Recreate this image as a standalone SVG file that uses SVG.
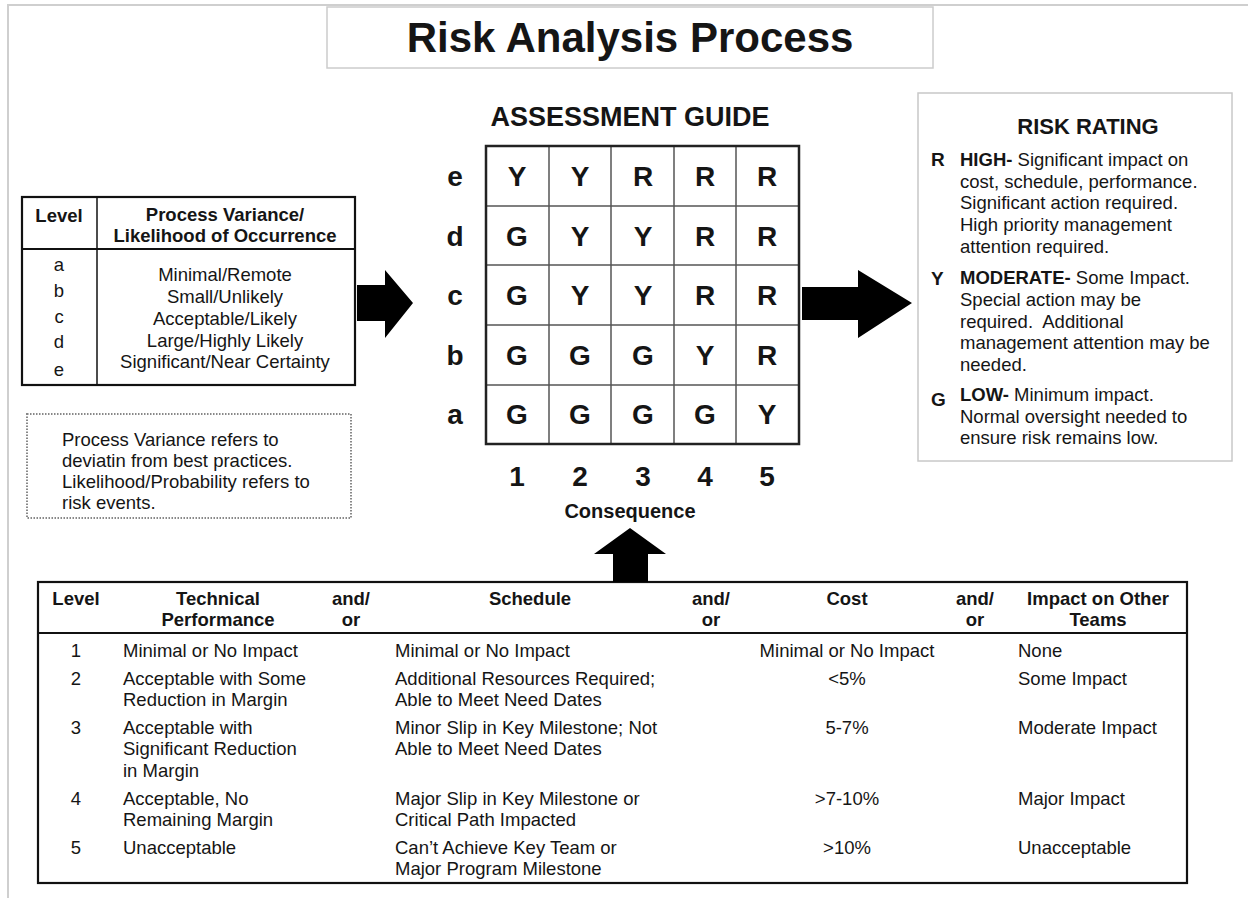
<svg xmlns="http://www.w3.org/2000/svg" width="1248" height="898" viewBox="0 0 1248 898">
  <style>
    text { font-family: "Liberation Sans", Arial, sans-serif; fill: #151515; }
    .b { font-weight: bold; }
    .c { text-anchor: middle; }
    .t { font-size: 18.5px; fill: #222; }
    .h { font-size: 18.5px; font-weight: bold; }
    .cell { font-size: 28px; font-weight: bold; text-anchor: middle; }
    .box { fill: #fff; stroke: #111; stroke-width: 2.2; }
    .grid { stroke: #555; stroke-width: 1.5; fill: none; }
    .arrow { fill: #000; }
  </style>

  <!-- page frame -->
  <rect x="0" y="0" width="1248" height="898" fill="#fff"/>
  <path d="M8 898 V5 H1248" fill="none" stroke="#cfcfcf" stroke-width="2"/>

  <!-- title -->
  <g id="title">
    <rect x="327" y="7" width="606" height="61" fill="#fff" stroke="#cccccc" stroke-width="1.5"/>
    <text x="630" y="52" class="b c" font-size="42">Risk Analysis Process</text>
  </g>

  <!-- likelihood table -->
  <g id="likelihood-table">
    <rect x="22" y="197" width="333" height="188" class="box"/>
    <line x1="22" y1="249" x2="355" y2="249" stroke="#111" stroke-width="2"/>
    <line x1="97" y1="197" x2="97" y2="385" stroke="#111" stroke-width="1.5"/>
    <text x="59" y="222" class="h c">Level</text>
    <text x="225" y="221" class="h c">Process Variance/</text>
    <text x="225" y="242" class="h c">Likelihood of Occurrence</text>
    <g class="t c">
      <text x="59" y="271">a</text>
      <text x="59" y="297">b</text>
      <text x="59" y="323">c</text>
      <text x="59" y="348">d</text>
      <text x="59" y="376">e</text>
      <text x="225" y="281">Minimal/Remote</text>
      <text x="225" y="303">Small/Unlikely</text>
      <text x="225" y="325">Acceptable/Likely</text>
      <text x="225" y="347">Large/Highly Likely</text>
      <text x="225" y="368">Significant/Near Certainty</text>
    </g>
  </g>

  <!-- explanatory note -->
  <g id="note">
    <rect x="27" y="414" width="324" height="104" fill="#fff" stroke="#888" stroke-width="2" stroke-dasharray="1.5 1.5"/>
    <g class="t">
      <text x="62" y="446">Process Variance refers to</text>
      <text x="62" y="467">deviatin from best practices.</text>
      <text x="62" y="488">Likelihood/Probability refers to</text>
      <text x="62" y="509">risk events.</text>
    </g>
  </g>

  <!-- assessment guide matrix -->
  <g id="assessment-guide">
    <text x="630" y="126" class="b c" font-size="27">ASSESSMENT GUIDE</text>
    <rect x="486" y="146" width="313" height="298" fill="#fff" stroke="none"/>
    <g class="grid">
      <line x1="549" y1="146" x2="549" y2="444"/>
      <line x1="611" y1="146" x2="611" y2="444"/>
      <line x1="674" y1="146" x2="674" y2="444"/>
      <line x1="736" y1="146" x2="736" y2="444"/>
      <line x1="486" y1="206" x2="799" y2="206"/>
      <line x1="486" y1="265" x2="799" y2="265"/>
      <line x1="486" y1="325" x2="799" y2="325"/>
      <line x1="486" y1="385" x2="799" y2="385"/>
    </g>
    <rect x="486" y="146" width="313" height="298" fill="none" stroke="#222" stroke-width="2.5"/>
    <g class="cell">
      <text x="455" y="186">e</text>
      <text x="455" y="246">d</text>
      <text x="455" y="305">c</text>
      <text x="455" y="365">b</text>
      <text x="455" y="424">a</text>

      <text x="517" y="186">Y</text><text x="580" y="186">Y</text><text x="643" y="186">R</text><text x="705" y="186">R</text><text x="767" y="186">R</text>
      <text x="517" y="246">G</text><text x="580" y="246">Y</text><text x="643" y="246">Y</text><text x="705" y="246">R</text><text x="767" y="246">R</text>
      <text x="517" y="305">G</text><text x="580" y="305">Y</text><text x="643" y="305">Y</text><text x="705" y="305">R</text><text x="767" y="305">R</text>
      <text x="517" y="365">G</text><text x="580" y="365">G</text><text x="643" y="365">G</text><text x="705" y="365">Y</text><text x="767" y="365">R</text>
      <text x="517" y="424">G</text><text x="580" y="424">G</text><text x="643" y="424">G</text><text x="705" y="424">G</text><text x="767" y="424">Y</text>

      <text x="517" y="486">1</text>
      <text x="580" y="486">2</text>
      <text x="643" y="486">3</text>
      <text x="705" y="486">4</text>
      <text x="767" y="486">5</text>
    </g>
    <text x="630" y="518" class="b c" font-size="20">Consequence</text>
  </g>

  <!-- risk rating legend -->
  <g id="risk-rating">
    <rect x="918" y="93" width="314" height="368" fill="#fff" stroke="#c8c8c8" stroke-width="1.5"/>
    <text x="1088" y="134" class="b c" font-size="22">RISK RATING</text>
    <g class="b" font-size="19">
      <text x="931" y="166">R</text>
      <text x="931" y="285">Y</text>
      <text x="931" y="406">G</text>
    </g>
    <g class="t">
      <text x="960" y="166"><tspan class="b">HIGH-</tspan> Significant impact on</text>
      <text x="960" y="188">cost, schedule, performance.</text>
      <text x="960" y="209">Significant action required.</text>
      <text x="960" y="231">High priority management</text>
      <text x="960" y="253">attention required.</text>
      <text x="960" y="284"><tspan class="b">MODERATE-</tspan> Some Impact.</text>
      <text x="960" y="306">Special action may be</text>
      <text x="960" y="328" xml:space="preserve">required.  Additional</text>
      <text x="960" y="349">management attention may be</text>
      <text x="960" y="371">needed.</text>
      <text x="960" y="401"><tspan class="b">LOW-</tspan> Minimum impact.</text>
      <text x="960" y="423">Normal oversight needed to</text>
      <text x="960" y="444">ensure risk remains low.</text>
    </g>
  </g>

  <!-- consequence table -->
  <g id="consequence-table">
    <rect x="38" y="582" width="1149" height="301" class="box"/>
    <line x1="38" y1="633" x2="1187" y2="633" stroke="#111" stroke-width="2"/>
    <g class="h c">
      <text x="76" y="605">Level</text>
      <text x="218" y="605">Technical</text>
      <text x="218" y="626">Performance</text>
      <text x="351" y="605">and/</text>
      <text x="351" y="626">or</text>
      <text x="530" y="605">Schedule</text>
      <text x="711" y="605">and/</text>
      <text x="711" y="626">or</text>
      <text x="847" y="605">Cost</text>
      <text x="975" y="605">and/</text>
      <text x="975" y="626">or</text>
      <text x="1098" y="605">Impact on Other</text>
      <text x="1098" y="626">Teams</text>
    </g>
    <g class="t">
      <text x="76" y="657" class="c">1</text>
      <text x="76" y="685" class="c">2</text>
      <text x="76" y="734" class="c">3</text>
      <text x="76" y="805" class="c">4</text>
      <text x="76" y="854" class="c">5</text>

      <text x="123" y="657">Minimal or No Impact</text>
      <text x="123" y="685">Acceptable with Some</text>
      <text x="123" y="706">Reduction in Margin</text>
      <text x="123" y="734">Acceptable with</text>
      <text x="123" y="755">Significant Reduction</text>
      <text x="123" y="777">in Margin</text>
      <text x="123" y="805">Acceptable, No</text>
      <text x="123" y="826">Remaining Margin</text>
      <text x="123" y="854">Unacceptable</text>

      <text x="395" y="657">Minimal or No Impact</text>
      <text x="395" y="685">Additional Resources Required;</text>
      <text x="395" y="706">Able to Meet Need Dates</text>
      <text x="395" y="734">Minor Slip in Key Milestone; Not</text>
      <text x="395" y="755">Able to Meet Need Dates</text>
      <text x="395" y="805">Major Slip in Key Milestone or</text>
      <text x="395" y="826">Critical Path Impacted</text>
      <text x="395" y="854">Can’t Achieve Key Team or</text>
      <text x="395" y="875">Major Program Milestone</text>

      <text x="847" y="657" class="c">Minimal or No Impact</text>
      <text x="847" y="685" class="c">&lt;5%</text>
      <text x="847" y="734" class="c">5-7%</text>
      <text x="847" y="805" class="c">&gt;7-10%</text>
      <text x="847" y="854" class="c">&gt;10%</text>

      <text x="1018" y="657">None</text>
      <text x="1018" y="685">Some Impact</text>
      <text x="1018" y="734">Moderate Impact</text>
      <text x="1018" y="805">Major Impact</text>
      <text x="1018" y="854">Unacceptable</text>
    </g>
  </g>

  <!-- block arrows between stages -->
  <g id="connectors">
    <polygon class="arrow" points="357,285 385,285 385,270 413,303 385,338 385,321 357,321"/>
    <polygon class="arrow" points="802,287 858,287 858,270 912,303 858,338 858,320 802,320"/>
    <polygon class="arrow" points="613,582 613,554 594,554 630,528 666,554 648,554 648,582"/>
  </g>
</svg>
